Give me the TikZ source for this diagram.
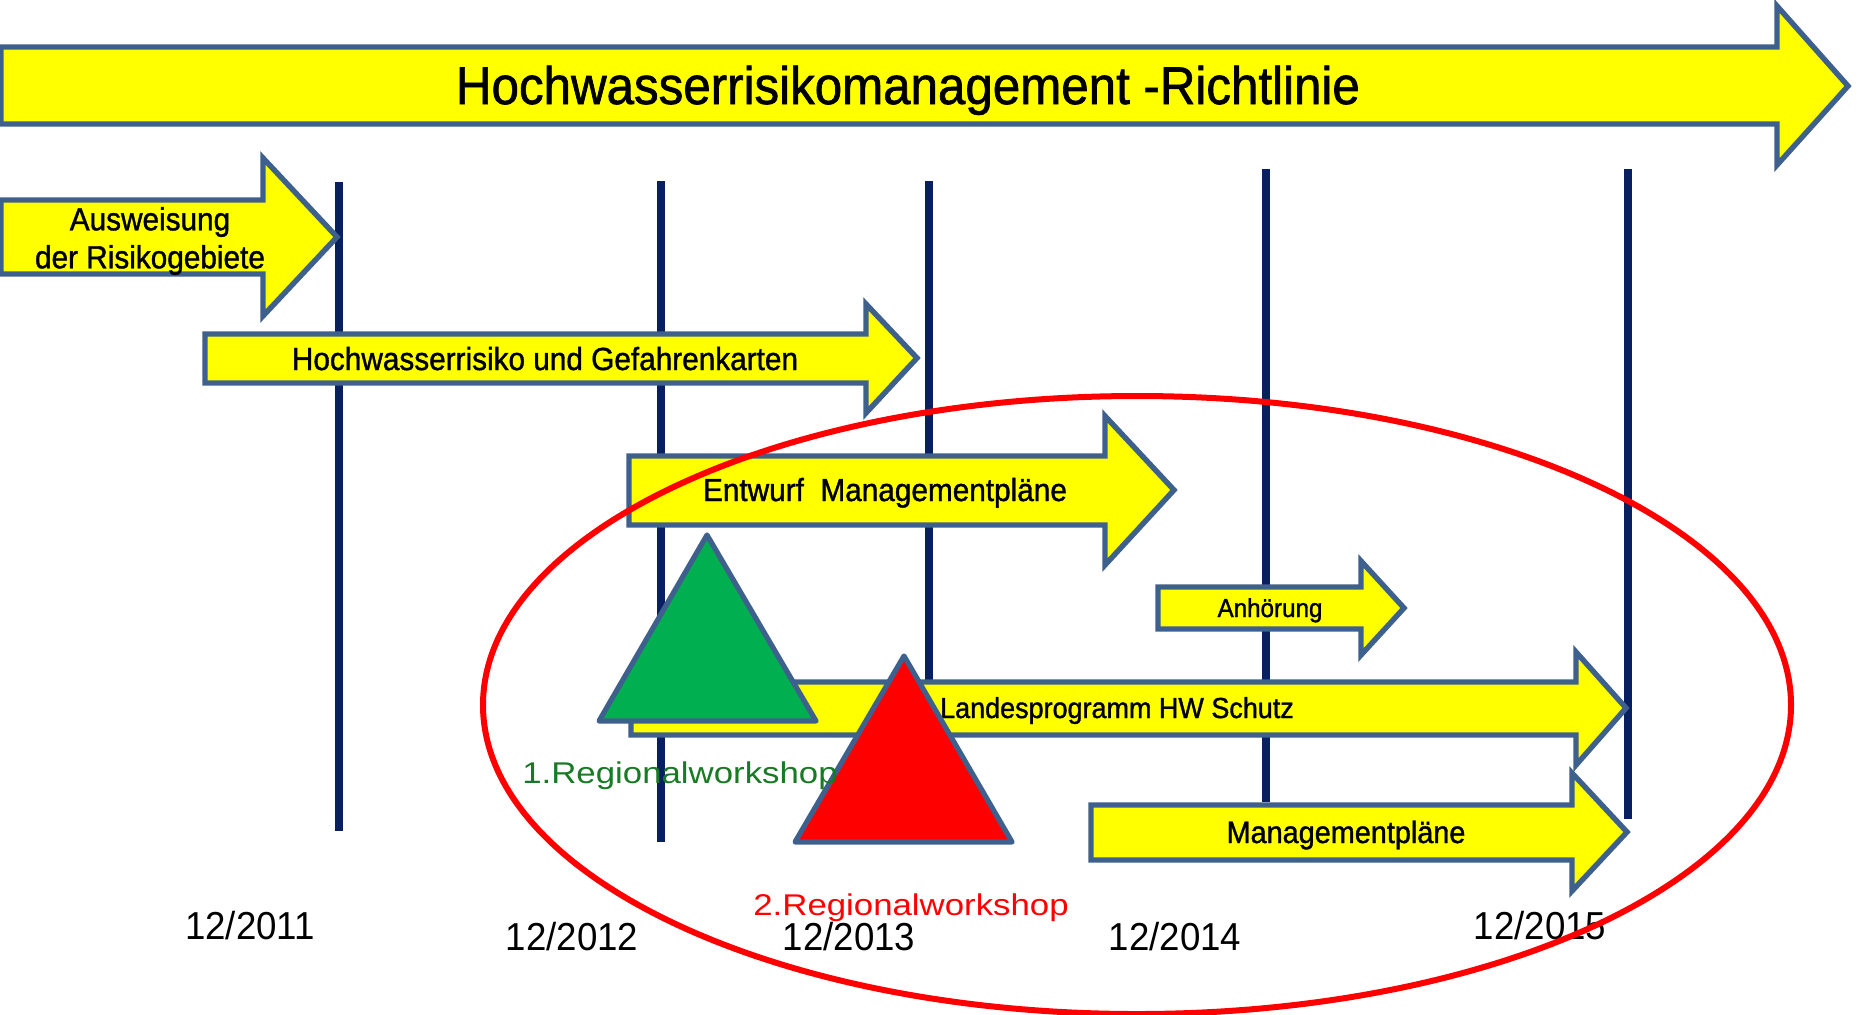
\documentclass[tikz,border=0pt]{standalone}
\usepackage{fontspec}
\setmainfont{Liberation Sans}
\newfontfamily\narrowsans[FakeStretch=0.94]{Liberation Sans}
\newfontfamily\phasesans[FakeStretch=0.93,FakeBold=1.2]{Liberation Sans}
\newfontfamily\widesans[FakeStretch=1.16]{Liberation Sans}
\usepackage{tikz}
\usetikzlibrary{positioning}
\usepackage{xcolor}
\definecolor{phaseyellow}{RGB}{255,255,0}
\definecolor{phaseedge}{RGB}{62,96,140}
\definecolor{yearblue}{RGB}{8,32,96}
\definecolor{wsgreen}{RGB}{0,176,80}
\definecolor{wslabel}{RGB}{24,122,36}

\begin{document}
\begin{tikzpicture}[x=0.5pt,y=-0.5pt,
  phase/.style={draw=phaseedge, fill=phaseyellow, line width=2.7pt, line join=miter},
  yearline/.style={draw=yearblue, line width=4.2pt},
  workshop/.style={draw=phaseedge, line width=2.6pt, line join=round},
  ptext/.style={font=\phasesans\fontsize{16}{19}\selectfont, anchor=base, align=center},
  datetext/.style={font=\narrowsans\fontsize{19.5}{23}\selectfont, anchor=base},
  wstext/.style={font=\widesans\fontsize{15}{18}\selectfont, anchor=base}
]
\useasboundingbox (0,0) rectangle (1861,1014);

% years
\draw[yearline] (339,182) -- (339,831);
\draw[yearline] (661,181) -- (661,842);
\draw[yearline] (929,181) -- (929,800);
\draw[yearline] (1266,169) -- (1266,802);
\draw[yearline] (1628,169) -- (1628,819);

% Richtlinie
\draw[phase] (1,47) -- (1777,47) -- (1777,6) -- (1848,86) -- (1777,165) -- (1777,124) -- (1,124) -- cycle;
\node[ptext, font=\phasesans\fontsize{26.5}{30}\selectfont] (ttitle) at (908,104) {Hochwasserrisikomanagement -Richtlinie};

% Ausweisung
\draw[phase] (1,200) -- (263,200) -- (263,158) -- (337,237) -- (263,316) -- (263,274) -- (1,274) -- cycle;
\node[ptext, anchor=center] (taus) at (150,241) {Ausweisung\\der Risikogebiete};

% Karten
\draw[phase] (205,334) -- (866,334) -- (866,304) -- (917,358) -- (866,413) -- (866,383) -- (205,383) -- cycle;
\node[ptext] (tkarten) at (545,370) {Hochwasserrisiko und Gefahrenkarten};

% Entwurf
\draw[phase] (629,456) -- (1105,456) -- (1105,416) -- (1174,490) -- (1105,565) -- (1105,525) -- (629,525) -- cycle;
\node[ptext] (tentwurf) at (885,501) {Entwurf\ \ Managementpläne};

% Anhoerung
\draw[phase] (1158,587) -- (1361,587) -- (1361,561) -- (1404,608) -- (1361,655) -- (1361,629) -- (1158,629) -- cycle;
\node[ptext, font=\phasesans\fontsize{13}{16}\selectfont] (tanh) at (1270,617) {Anhörung};

% Landesprogramm
\draw[phase] (631,682) -- (1576,682) -- (1576,652) -- (1626,708) -- (1576,765) -- (1576,735) -- (631,735) -- cycle;
\node[ptext, font=\phasesans\fontsize{14.5}{17}\selectfont] (tland) at (1117,718) {Landesprogramm HW Schutz};

% Managementplaene
\draw[phase] (1091,805) -- (1572,805) -- (1572,773) -- (1627,832) -- (1572,891) -- (1572,860) -- (1091,860) -- cycle;
\node[ptext, font=\phasesans\fontsize{15.5}{18}\selectfont] (tmgmt) at (1346,843) {Managementpläne};

% workshops
\draw[workshop, fill=wsgreen] (599,721) -- (707,535) -- (816,721) -- cycle;
\draw[workshop, fill=red] (795,842) -- (904,656) -- (1012,842) -- cycle;
\node[wstext, text=wslabel] (ws1) at (680,783) {1.Regionalworkshop};
\node[wstext, text=red] (ws2) at (911,915) {2.Regionalworkshop};

% dates
\node[datetext] (d2011) at (250,939) {12/2011};
\node[datetext] (d2012) at (572,950) {12/2012};
\node[datetext] (d2013) at (849,950) {12/2013};
\node[datetext] (d2014) at (1175,950) {12/2014};
\node[datetext] (d2015) at (1540,939) {12/2015};

% focus
\draw[red, line width=3pt] (1137,705) ellipse [x radius=654, y radius=309];
\end{tikzpicture}
\end{document}
